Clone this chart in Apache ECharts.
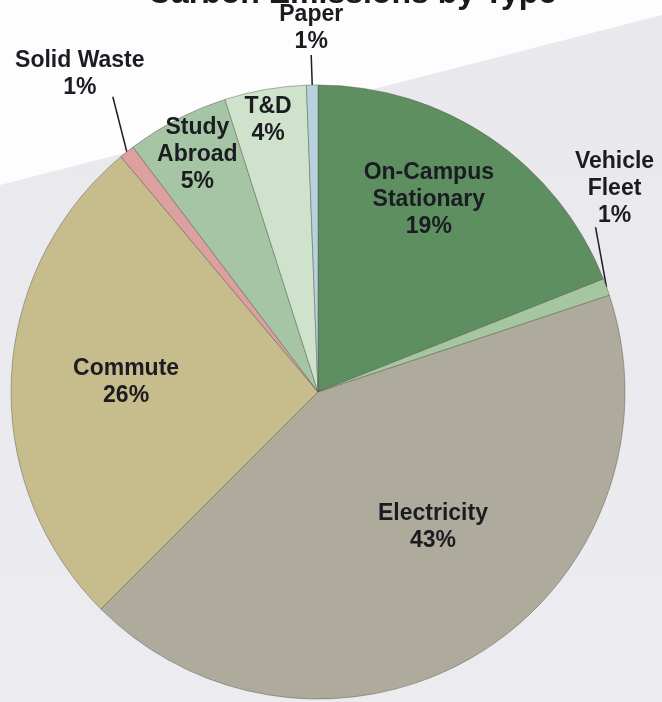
<!DOCTYPE html>
<html><head><meta charset="utf-8">
<script src="https://cdn.jsdelivr.net/npm/echarts@6/dist/echarts.min.js"></script>
<style>html,body{margin:0;padding:0;background:#fdfdfd;}#c{width:662px;height:702px;}</style>
</head><body><div id="c"></div>
<script>
const titleText = 'Carbon Emissions by Type';
const categories = ['On-Campus\nStationary', 'Vehicle\nFleet', 'Electricity', 'Commute', 'Solid Waste', 'Study\nAbroad', 'T&D', 'Paper'];
const values = [19.0, 0.9, 42.6, 26.4, 0.8, 5.4, 4.3, 0.6];
const colors = ['#5d8f61', '#a5c6a1', '#afab9c', '#c6bc8c', '#dca0a0', '#a5c5a5', '#cfe2cc', '#b7d2dc'];

// layout / style constants
const CX = 318, CY = 392, R = 307;
const insidePlace = { 0: [0.722, 4.2], 2: [0.578, 8.7], 3: [0.626, -0.5], 5: [0.867, -0.4], 6: [0.901, 0.5] };
const outsidePlace = {
  1: { line: [-11, -60], label: [8, -98] },
  4: { line: [-14, -55], label: [-47, -78] },
  7: { line: [-1, -30], label: [-1, -57] }
};

const chart = echarts.init(document.getElementById('c'), null, { renderer: 'canvas' });
const data = categories.map((name, i) => {
  const item = { name: name, value: values[i], itemStyle: { color: colors[i] } };
  if (insidePlace[i]) {
    item.label = { position: 'inside' };
    item.labelLine = { show: false };
  }
  return item;
});

chart.setOption({
  animation: false,
  backgroundColor: '#fdfdfd',
  title: {
    text: titleText,
    left: 352,
    top: -24,
    padding: 0,
    textAlign: 'center',
    textStyle: { fontFamily: 'Liberation Sans, Arial, sans-serif', fontSize: 32, fontWeight: 'bold', color: '#1a1a1a', lineHeight: 36 }
  },
  graphic: [{
    type: 'polygon', z: -10, silent: true,
    shape: { points: [[0, 185], [662, 15], [662, 702], [0, 702]] },
    style: {
      fill: new echarts.graphic.LinearGradient(0, 0, 0, 1, [
        { offset: 0, color: '#e8e8ed' },
        { offset: 1, color: '#ececf0' }
      ])
    }
  }],
  series: [{
    type: 'pie',
    center: [CX, CY],
    radius: [0, R],
    startAngle: 90,
    clockwise: true,
    avoidLabelOverlap: false,
    percentPrecision: 0,
    itemStyle: { borderColor: 'rgba(85,85,70,0.45)', borderWidth: 1 },
    label: {
      show: true,
      position: 'outside',
      formatter: '{b}\n{d}%',
      fontFamily: 'Liberation Sans, Arial, sans-serif',
      fontSize: 23,
      fontWeight: 'bold',
      lineHeight: 27,
      color: '#1b1b22',
      align: 'center'
    },
    labelLine: { show: true, length: 25, length2: 0, smooth: false, lineStyle: { color: '#1e1e28', width: 1.5 } },
    labelLayout: function (p) {
      const i = p.dataIndex;
      if (insidePlace[i]) {
        const lr = p.labelRect;
        const lx = lr.x + lr.width / 2, ly = lr.y + lr.height / 2;
        const a = Math.atan2(-(ly - CY), lx - CX) + insidePlace[i][1] * Math.PI / 180;
        const rr = insidePlace[i][0] * R;
        return { x: CX + rr * Math.cos(a), y: CY - rr * Math.sin(a), align: 'center', verticalAlign: 'middle' };
      }
      const o = outsidePlace[i];
      if (o && p.labelLinePoints) {
        const p0 = p.labelLinePoints[0];
        return {
          x: p0[0] + o.label[0], y: p0[1] + o.label[1],
          align: 'center', verticalAlign: 'middle',
          labelLinePoints: [[p0[0], p0[1]], [p0[0] + o.line[0], p0[1] + o.line[1]]]
        };
      }
    },
    emphasis: { disabled: true },
    data: data
  }]
});
</script></body></html>
